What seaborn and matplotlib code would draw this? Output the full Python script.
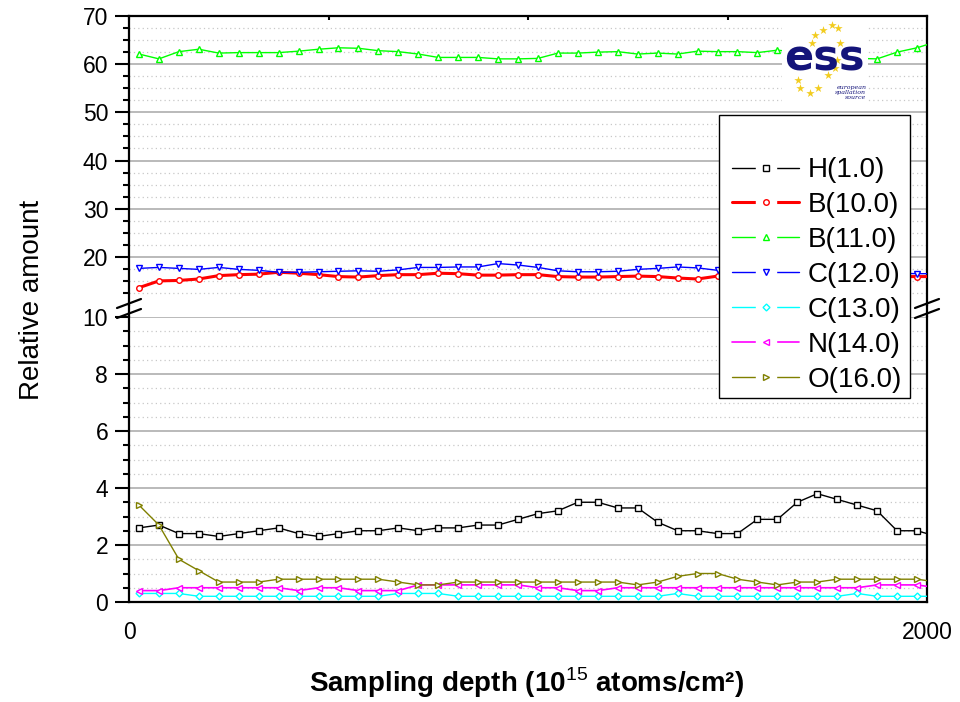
import matplotlib
matplotlib.use("Agg")

import matplotlib.pyplot as plt
from matplotlib.lines import Line2D
from matplotlib.patches import Rectangle
from matplotlib.legend_handler import HandlerTuple
from matplotlib.ticker import FixedLocator, MultipleLocator
import seaborn as sns

sns.set_style("white")
plt.rcParams["font.family"] = ["Liberation Sans", "DejaVu Sans"]
plt.rcParams["mathtext.fontset"] = "custom"
plt.rcParams["mathtext.rm"] = "Liberation Sans"
for key in ("text.color", "axes.labelcolor", "xtick.color", "ytick.color"):
    plt.rcParams[key] = "black"

# Sampling depth (10^15 atoms/cm2), one point every 50 units
depth = [25, 75, 125, 175, 225, 275, 325, 375, 425, 475,
         525, 575, 625, 675, 725, 775, 825, 875, 925, 975,
         1025, 1075, 1125, 1175, 1225, 1275, 1325, 1375, 1425, 1475,
         1525, 1575, 1625, 1675, 1725, 1775, 1825, 1875, 1925, 1975,
         2025]

h_1 = [2.6, 2.7, 2.4, 2.4, 2.3, 2.4, 2.5, 2.6, 2.4, 2.3,
       2.4, 2.5, 2.5, 2.6, 2.5, 2.6, 2.6, 2.7, 2.7, 2.9,
       3.1, 3.2, 3.5, 3.5, 3.3, 3.3, 2.8, 2.5, 2.5, 2.4,
       2.4, 2.9, 2.9, 3.5, 3.8, 3.6, 3.4, 3.2, 2.5, 2.5,
       2.3]
b_10 = [13.6, 15.0, 15.1, 15.4, 16.1, 16.3, 16.4, 16.8, 16.6, 16.3,
        15.9, 15.8, 16.1, 16.3, 16.3, 16.6, 16.5, 16.2, 16.2, 16.3,
        16.3, 15.9, 15.8, 15.8, 15.9, 16.0, 15.9, 15.6, 15.4, 16.0,
        16.0, 16.1, 16.0, 15.9, 16.0, 16.1, 16.0, 15.9, 15.9, 15.9,
        15.9]
b_11 = [62.1, 61.1, 62.6, 63.1, 62.3, 62.4, 62.4, 62.4, 62.7, 63.1,
        63.4, 63.3, 62.8, 62.6, 62.1, 61.4, 61.4, 61.4, 61.1, 61.1,
        61.2, 62.3, 62.3, 62.5, 62.6, 62.1, 62.3, 62.1, 62.7, 62.6,
        62.6, 62.4, 62.9, 62.5, 62.0, 61.5, 61.2, 61.1, 62.5, 63.4,
        64.7]
c_12 = [17.6, 17.8, 17.6, 17.4, 17.8, 17.4, 17.2, 16.8, 16.8, 16.9,
        17.0, 17.1, 17.0, 17.3, 17.8, 17.8, 17.9, 17.9, 18.6, 18.3,
        17.8, 17.1, 16.9, 16.9, 17.0, 17.4, 17.6, 17.9, 17.7, 17.2,
        17.4, 17.3, 17.2, 17.1, 17.0, 16.9, 16.8, 16.7, 16.6, 16.5,
        16.5]
c_13 = [0.3, 0.3, 0.3, 0.2, 0.2, 0.2, 0.2, 0.2, 0.2, 0.2,
        0.2, 0.2, 0.2, 0.3, 0.3, 0.3, 0.2, 0.2, 0.2, 0.2,
        0.2, 0.2, 0.2, 0.2, 0.2, 0.2, 0.2, 0.3, 0.2, 0.2,
        0.2, 0.2, 0.2, 0.2, 0.2, 0.2, 0.3, 0.2, 0.2, 0.2,
        0.2]
n_14 = [0.4, 0.4, 0.5, 0.5, 0.5, 0.5, 0.5, 0.5, 0.4, 0.5,
        0.5, 0.4, 0.4, 0.4, 0.6, 0.6, 0.6, 0.6, 0.6, 0.6,
        0.5, 0.5, 0.4, 0.4, 0.5, 0.5, 0.5, 0.5, 0.5, 0.5,
        0.5, 0.5, 0.5, 0.5, 0.5, 0.5, 0.5, 0.6, 0.6, 0.6,
        0.5]
o_16 = [3.4, 2.7, 1.5, 1.1, 0.7, 0.7, 0.7, 0.8, 0.8, 0.8,
        0.8, 0.8, 0.8, 0.7, 0.6, 0.6, 0.7, 0.7, 0.7, 0.7,
        0.7, 0.7, 0.7, 0.7, 0.7, 0.6, 0.7, 0.9, 1.0, 1.0,
        0.8, 0.7, 0.6, 0.7, 0.7, 0.8, 0.8, 0.8, 0.8, 0.8,
        0.7]

labels = ["H(1.0)", "B(10.0)", "B(11.0)", "C(12.0)", "C(13.0)", "N(14.0)", "O(16.0)"]
series = [h_1, b_10, b_11, c_12, c_13, n_14, o_16]
colors = ["#000000", "#ff0000", "#00ff00", "#0000ff", "#00ffff", "#ff00ff", "#808000"]
markers = ["s", "o", "^", "v", "D", "<", ">"]
msizes = [4, 4, 5, 5, 3.5, 5, 5]
widths = [1.0, 2.2, 1.0, 1.0, 1.0, 1.2, 1.0]

W, H = 960, 702
fig = plt.figure(figsize=(W / 100, H / 100), dpi=100)


def fx(px):
    return px / W


def fy(py):
    return 1 - py / H


left, right = 129, 927
ax_top = fig.add_axes([fx(left), fy(305), fx(right - left), (305 - 16) / H])
ax_bot = fig.add_axes([fx(left), fy(602), fx(right - left), (602 - 317) / H])

for ax in (ax_top, ax_bot):
    for lab, vals, col, mk, ms, lw in zip(labels, series, colors, markers, msizes, widths):
        sns.lineplot(x=depth, y=vals, ax=ax, color=col, marker=mk, markersize=ms,
                     markerfacecolor="white", markeredgecolor=col, markeredgewidth=1.0,
                     linewidth=lw, legend=False, zorder=3)
    ax.set_xlim(0, 2000)
    ax.set_xlabel("")
    ax.set_ylabel("")
    ax.set_axisbelow(True)
    ax.grid(axis="y", which="major", color="#b4b4b4", linewidth=1.3)
    ax.grid(axis="y", which="minor", color="#c8c8c8", linewidth=0.9, linestyle=(0, (1, 2.5)))
    for side in ("left", "right", "top", "bottom"):
        ax.spines[side].set_linewidth(1.6)
        ax.spines[side].set_color("black")
    ax.tick_params(axis="y", which="major", direction="out", length=10, width=1.5,
                   labelsize=16.5, pad=5, left=True, right=False)
    ax.tick_params(axis="y", which="minor", direction="out", length=4.5, width=1.5,
                   left=True, right=False)

# upper panel 10 - 70
ax_top.set_ylim(10, 70)
ax_top.yaxis.set_major_locator(FixedLocator([20, 30, 40, 50, 60, 70]))
ax_top.yaxis.set_minor_locator(FixedLocator([v + d for v in (10, 20, 30, 40, 50, 60) for d in (2.5, 5, 7.5)]))
ax_top.spines["bottom"].set_visible(False)
ax_top.set_xticks([0, 2000])
ax_top.set_xticks([500, 1000, 1500], minor=True)
ax_top.tick_params(axis="x", which="both", bottom=False, top=True, labelbottom=False,
                   direction="in", length=3, width=1.5)

# lower panel 0 - 10
ax_bot.set_ylim(0, 10)
ax_bot.yaxis.set_major_locator(MultipleLocator(2))
ax_bot.yaxis.set_minor_locator(MultipleLocator(0.5))
ax_bot.spines["top"].set_visible(False)
ax_bot.set_xticks([0, 2000])
ax_bot.set_xticklabels(["0", "2000"])
ax_bot.set_xticks([500, 1000, 1500], minor=True)
ax_bot.tick_params(axis="x", which="major", direction="out", length=9, width=1.5,
                   labelsize=16.5, pad=5)
ax_bot.tick_params(axis="x", which="minor", direction="out", length=4.5, width=1.5)

# spine across the gap and break marks
for sx in (left, right):
    fig.add_artist(Line2D([fx(sx), fx(sx)], [fy(317), fy(305)], transform=fig.transFigure,
                          color="black", linewidth=1.6))
    for off in (0, 10):
        fig.add_artist(Line2D([fx(sx - 12), fx(sx + 12)], [fy(308 + off), fy(299 + off)],
                              transform=fig.transFigure, color="black", linewidth=1.6))

# axis titles
fig.text(fx(32), fy(300), "Relative amount", rotation=90, ha="center", va="center", fontsize=20)
fig.text(fx(527), fy(683), r"Sampling depth (10$^{\mathrm{15}}$ atoms/cm²)",
         ha="center", va="center", fontsize=20, fontweight="bold")

# legend box (Origin style line - marker - line)
fig.add_artist(Rectangle((fx(719), fy(398)), fx(910 - 719), (398 - 115) / H,
                         transform=fig.transFigure, facecolor="white", edgecolor="black",
                         linewidth=1.0, zorder=8))
handles = []
for col, mk, ms, lw in zip(colors, markers, msizes, widths):
    line = Line2D([], [], color=col, linewidth=lw)
    mask = Line2D([], [], linestyle="none", marker="s", markersize=15,
                  markerfacecolor="white", markeredgecolor="white")
    mark = Line2D([], [], linestyle="none", marker=mk, markersize=ms,
                  markerfacecolor="white", markeredgecolor=col, markeredgewidth=1.0)
    handles.append((line, mask, mark))
leg = fig.legend(handles, labels, loc="center", bbox_to_anchor=(fx(817), fy(275)),
                 frameon=False, fontsize=20, handlelength=2.4, handletextpad=0.3,
                 labelspacing=0.32, borderpad=0, borderaxespad=0,
                 handler_map={tuple: HandlerTuple(ndivide=1, pad=0)})
leg.set_zorder(9)

# logo
ax_logo = fig.add_axes([fx(782), fy(103), fx(86), 85 / H])
ax_logo.set_xlim(0, 1)
ax_logo.set_ylim(0, 1)
ax_logo.set_xticks([])
ax_logo.set_yticks([])
for s in ax_logo.spines.values():
    s.set_visible(False)
ax_logo.set_facecolor("white")
star_x = [0.58, 0.48, 0.65, 0.38, 0.67, 0.35, 0.64, 0.62, 0.19, 0.54, 0.21, 0.33, 0.42]
star_y = [0.92, 0.86, 0.88, 0.80, 0.71, 0.71, 0.51, 0.41, 0.27, 0.33, 0.18, 0.12, 0.18]
ax_logo.scatter(star_x, star_y, marker="*", s=40, color="#f2cc1f", linewidths=0, zorder=1)
ax_logo.text(0.49, 0.52, "ess", ha="center", va="center", fontsize=31, fontweight="heavy",
             family="DejaVu Sans", color="#14147a", zorder=2)
ax_logo.text(0.98, 0.04, "european\nspallation\nsource", ha="right", va="bottom",
             fontsize=4.5, style="italic", family="DejaVu Serif", color="#14147a",
             linespacing=0.9, zorder=2)

fig.savefig("out.png", dpi=100)
